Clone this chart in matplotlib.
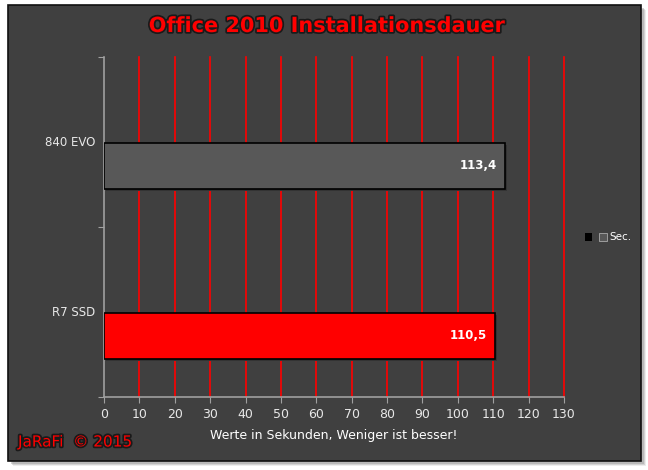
import matplotlib
matplotlib.use("Agg")
import matplotlib.pyplot as plt
import matplotlib.patheffects as pe
from matplotlib.patches import Rectangle

categories = ["R7 SSD", "840 EVO"]
values = [110.5, 113.4]
value_labels = ["110,5", "113,4"]
bar_colors = ["#ff0000", "#585858"]
xticks = list(range(0, 131, 10))

bg = "#404040"
fig = plt.figure(figsize=(6.48, 4.70), dpi=100)
fig.patch.set_facecolor("white")

# chart frame with a soft shadow
W, H = 648, 470
def fx(px):
    return px / W
def fy(py):
    return (H - py) / H

for off, alpha in [(5, 0.15), (4, 0.25), (3, 0.35)]:
    fig.patches.append(Rectangle((fx(8 + off), fy(461 + off)), fx(633), 456 / H,
                                 transform=fig.transFigure, facecolor="#888888",
                                 edgecolor="none", alpha=alpha, zorder=0))
fig.patches.append(Rectangle((fx(8), fy(461)), fx(633), 456 / H,
                             transform=fig.transFigure, facecolor=bg,
                             edgecolor="#111111", linewidth=1.2, zorder=1))

ax = fig.add_axes([fx(104), fy(397), 460 / W, 340 / H])
ax.set_facecolor(bg)
ax.patch.set_alpha(0)
ax.set_zorder(2)

ypos = list(range(len(categories)))
bh = 0.27
# the second (empty) series slot pushes the visible bar below the category centre
bar_y = [y - 0.14 for y in ypos]
ax.barh([y - 0.015 for y in bar_y], values, height=bh, left=0.6,
        color="#333333", edgecolor="none", zorder=2)
ax.barh(bar_y, values, height=bh, color=bar_colors, edgecolor="black",
        linewidth=1.2, zorder=3)
for y, v, lab in zip(bar_y, values, value_labels):
    ax.text(v - 2.3, y, lab, color="white", fontsize=8.5, fontweight="bold",
            ha="right", va="center", zorder=4)

ax.set_xlim(0, 130)
ax.set_ylim(-0.5, 1.5)
ax.set_xticks(xticks)
ax.set_xticklabels([str(t) for t in xticks], color="#e8e8e8", fontsize=9)
for t in xticks[1:]:
    ax.axvline(t, color="#ff0000", linewidth=1.2, zorder=1, clip_on=False)

ax.set_yticks([-0.5, 0.5, 1.5])
ax.set_yticklabels([])
ax.tick_params(axis="y", length=4, color="#a0a0a0", direction="out")
ax.tick_params(axis="x", length=4, color="#a0a0a0", direction="out", pad=4)
for y, c in zip(ypos, categories):
    ax.text(-2.5, y, c, color="#e8e8e8", fontsize=8.5, ha="right", va="center")

for s in ["top", "right"]:
    ax.spines[s].set_visible(False)
for s in ["left", "bottom"]:
    ax.spines[s].set_color("#a0a0a0")
    ax.spines[s].set_linewidth(1.2)

ax.set_xlabel("Werte in Sekunden, Weniger ist besser!", color="white",
              fontsize=9, labelpad=6)

# legend
fig.patches.append(Rectangle((fx(585), fy(241)), 7 / W, 8 / H,
                             transform=fig.transFigure, facecolor="black",
                             edgecolor="none", zorder=3))
fig.patches.append(Rectangle((fx(599), fy(241)), 8 / W, 8 / H,
                             transform=fig.transFigure, facecolor="#585858",
                             edgecolor="#aaaaaa", linewidth=0.6, zorder=3))
fig.text(fx(609), fy(237), "Sec.", color="white", fontsize=7.5,
         ha="left", va="center")

outline = [pe.withStroke(linewidth=2.5, foreground="#1a1a1a")]
fig.text(fx(327), fy(26), "Office 2010 Installationsdauer", color="#ff0000",
         fontsize=15, fontweight="bold", ha="center", va="center",
         path_effects=outline)
fig.text(fx(18), fy(442), "JaRaFi  © 2015", color="#ff0000", fontsize=11,
         ha="left", va="center", path_effects=outline)

fig.savefig("out.png", dpi=100, facecolor=fig.get_facecolor())
